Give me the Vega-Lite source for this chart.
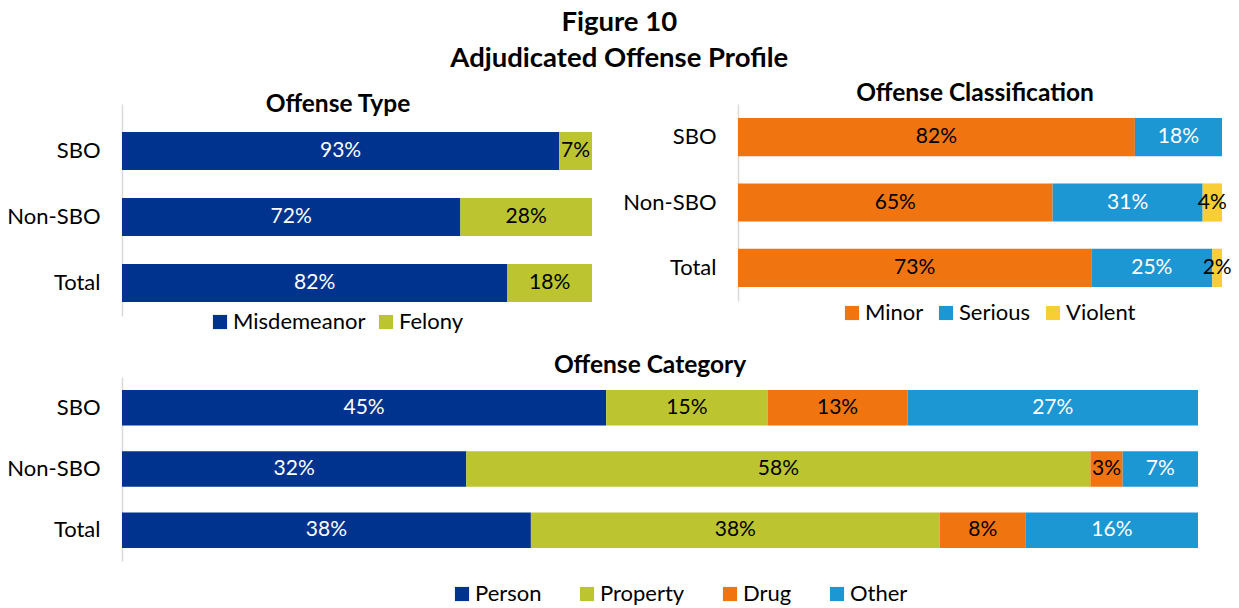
{
  "$schema": "https://vega.github.io/schema/vega-lite/v6.json",
  "background": "white",
  "padding": {"left": 6, "top": 9, "right": 0, "bottom": 0},
  "title": {"text": ["Figure 10", "Adjudicated Offense Profile"], "fontSize": 27.5, "lineHeight": 36, "font": "Lato", "fontWeight": "bold", "color": "black", "anchor": "middle", "offset": 8},
  "datasets": {
    "type": [
      {"g": "SBO", "cat": "Misdemeanor", "k": 1, "v": 0.93},
      {"g": "SBO", "cat": "Felony", "k": 2, "v": 0.07},
      {"g": "Non-SBO", "cat": "Misdemeanor", "k": 1, "v": 0.72},
      {"g": "Non-SBO", "cat": "Felony", "k": 2, "v": 0.28},
      {"g": "Total", "cat": "Misdemeanor", "k": 1, "v": 0.82},
      {"g": "Total", "cat": "Felony", "k": 2, "v": 0.18}
    ],
    "cls": [
      {"g": "SBO", "cat": "Minor", "k": 1, "v": 0.82},
      {"g": "SBO", "cat": "Serious", "k": 2, "v": 0.18},
      {"g": "Non-SBO", "cat": "Minor", "k": 1, "v": 0.65},
      {"g": "Non-SBO", "cat": "Serious", "k": 2, "v": 0.31},
      {"g": "Non-SBO", "cat": "Violent", "k": 3, "v": 0.04},
      {"g": "Total", "cat": "Minor", "k": 1, "v": 0.73},
      {"g": "Total", "cat": "Serious", "k": 2, "v": 0.25},
      {"g": "Total", "cat": "Violent", "k": 3, "v": 0.02}
    ],
    "category": [
      {"g": "SBO", "cat": "Person", "k": 1, "v": 0.45},
      {"g": "SBO", "cat": "Property", "k": 2, "v": 0.15},
      {"g": "SBO", "cat": "Drug", "k": 3, "v": 0.13},
      {"g": "SBO", "cat": "Other", "k": 4, "v": 0.27},
      {"g": "Non-SBO", "cat": "Person", "k": 1, "v": 0.32},
      {"g": "Non-SBO", "cat": "Property", "k": 2, "v": 0.58},
      {"g": "Non-SBO", "cat": "Drug", "k": 3, "v": 0.03},
      {"g": "Non-SBO", "cat": "Other", "k": 4, "v": 0.07},
      {"g": "Total", "cat": "Person", "k": 1, "v": 0.38},
      {"g": "Total", "cat": "Property", "k": 2, "v": 0.38},
      {"g": "Total", "cat": "Drug", "k": 3, "v": 0.08},
      {"g": "Total", "cat": "Other", "k": 4, "v": 0.16}
    ]
  },
  "vconcat": [
    {
      "hconcat": [
        {
          "width": 470, "height": 212,
          "title": {"text": "Offense Type", "dx": -19, "dy": 11, "offset": -2},
          "data": {"name": "type"},
          "transform": [{"stack": "v", "groupby": ["g"], "sort": [{"field": "k", "order": "ascending"}], "as": ["x0", "x1"]}],
          "encoding": {
            "y": {"field": "g", "type": "nominal", "sort": ["SBO", "Non-SBO", "Total"], "scale": {"paddingInner": 0.424, "paddingOuter": 0.318, "align": 0.667}, "axis": {"title": null}}
          },
          "layer": [
            {
              "mark": {"type": "bar"},
              "encoding": {
                "x": {"field": "x0", "type": "quantitative", "scale": {"domain": [0, 1]}, "axis": null},
                "x2": {"field": "x1"},
                "color": {"field": "cat", "type": "nominal", "scale": {"domain": ["Misdemeanor", "Felony"], "range": ["#00338E", "#BCC42F"]},
                  "legend": {"orient": "none", "legendX": 87, "legendY": 207, "direction": "horizontal", "title": null, "columnPadding": 9}}
              }
            },
            {
              "transform": [
                {"fold": ["x0", "x1"], "as": ["edge", "pos"]},
                {"aggregate": [{"op": "mean", "field": "pos", "as": "mid"}], "groupby": ["g", "cat", "v"]}
              ],
              "mark": {"type": "text", "fontSize": 21, "font": "Lato"},
              "encoding": {
                "x": {"field": "mid", "type": "quantitative"},
                "text": {"field": "v", "type": "quantitative", "format": ".0%"},
                "color": {"condition": {"test": "datum.cat === 'Misdemeanor'", "value": "white"}, "value": "black"}
              }
            }
          ]
        },
        {
          "width": 484, "height": 197,
          "title": {"text": "Offense Classification", "dx": -5, "offset": -2},
          "data": {"name": "cls"},
          "transform": [{"stack": "v", "groupby": ["g"], "sort": [{"field": "k", "order": "ascending"}], "as": ["x0", "x1"]}],
          "encoding": {
            "y": {"field": "g", "type": "nominal", "sort": ["SBO", "Non-SBO", "Total"], "scale": {"paddingInner": 0.415, "paddingOuter": 0.215}, "axis": {"title": null}}
          },
          "layer": [
            {
              "mark": {"type": "bar"},
              "encoding": {
                "x": {"field": "x0", "type": "quantitative", "scale": {"domain": [0, 1]}, "axis": null},
                "x2": {"field": "x1"},
                "color": {"field": "cat", "type": "nominal", "scale": {"domain": ["Minor", "Serious", "Violent"], "range": ["#F07511", "#1D96D4", "#F7CE33"]},
                  "legend": {"orient": "none", "legendX": 103, "legendY": 198, "direction": "horizontal", "title": null, "columnPadding": 11}}
              }
            },
            {
              "transform": [
                {"fold": ["x0", "x1"], "as": ["edge", "pos"]},
                {"aggregate": [{"op": "mean", "field": "pos", "as": "mid"}], "groupby": ["g", "cat", "v"]}
              ],
              "mark": {"type": "text", "fontSize": 21, "font": "Lato"},
              "encoding": {
                "x": {"field": "mid", "type": "quantitative"},
                "text": {"field": "v", "type": "quantitative", "format": ".0%"},
                "color": {"condition": {"test": "datum.cat === 'Serious'", "value": "white"}, "value": "black"}
              }
            }
          ]
        }
      ],
      "spacing": 30,
      "resolve": {"scale": {"color": "independent", "x": "independent", "y": "independent"}}
    },
    {
      "width": 1076, "height": 184,
      "title": {"text": "Offense Category", "dx": -10, "offset": -1},
      "data": {"name": "category"},
      "transform": [{"stack": "v", "groupby": ["g"], "sort": [{"field": "k", "order": "ascending"}], "as": ["x0", "x1"]}],
      "encoding": {
        "y": {"field": "g", "type": "nominal", "sort": ["SBO", "Non-SBO", "Total"], "scale": {"paddingInner": 0.42, "paddingOuter": 0.21}, "axis": {"title": null}}
      },
      "layer": [
        {
          "mark": {"type": "bar"},
          "encoding": {
            "x": {"field": "x0", "type": "quantitative", "scale": {"domain": [0, 1]}, "axis": null},
            "x2": {"field": "x1"},
            "color": {"field": "cat", "type": "nominal", "scale": {"domain": ["Person", "Property", "Drug", "Other"], "range": ["#00338E", "#BCC42F", "#F07511", "#1D96D4"]},
              "legend": {"orient": "none", "legendX": 329, "legendY": 206, "direction": "horizontal", "title": null, "columnPadding": 34}}
          }
        },
        {
          "transform": [
            {"fold": ["x0", "x1"], "as": ["edge", "pos"]},
            {"aggregate": [{"op": "mean", "field": "pos", "as": "mid"}], "groupby": ["g", "cat", "v"]}
          ],
          "mark": {"type": "text", "fontSize": 21, "font": "Lato"},
          "encoding": {
            "x": {"field": "mid", "type": "quantitative"},
            "text": {"field": "v", "type": "quantitative", "format": ".0%"},
            "color": {"condition": {"test": "datum.cat === 'Person' || datum.cat === 'Other'", "value": "white"}, "value": "black"}
          }
        }
      ]
    }
  ],
  "spacing": 19,
  "resolve": {"scale": {"color": "independent", "x": "independent", "y": "independent"}},
  "config": {
    "view": {"stroke": null},
    "font": "Lato",
    "title": {"font": "Lato", "fontSize": 24.5, "fontWeight": "bold", "color": "black", "anchor": "middle"},
    "axisY": {"domainColor": "#D9D9D9", "domainWidth": 1.5, "ticks": false, "labelPadding": 22, "labelFont": "Lato", "labelFontSize": 22, "labelColor": "black", "grid": false},
    "legend": {"symbolType": "square", "symbolSize": 200, "symbolStrokeWidth": 0, "labelFont": "Lato", "labelFontSize": 22, "labelColor": "black", "labelOffset": 2, "symbolOpacity": 1}
  }
}
